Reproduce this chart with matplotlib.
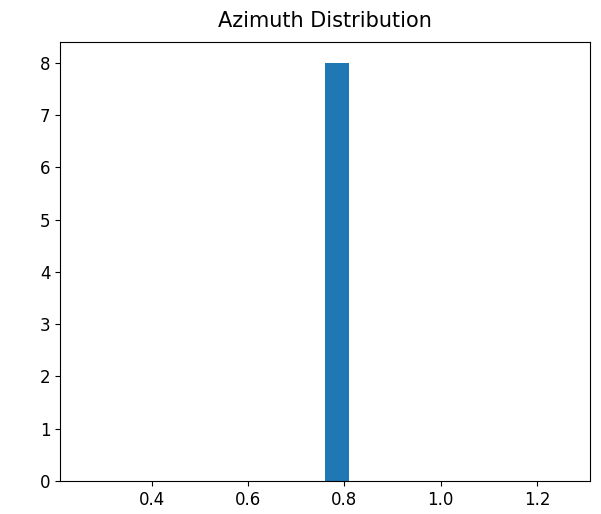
import numpy as np
import matplotlib
matplotlib.use("Agg")
import matplotlib.pyplot as plt

# Azimuth values (radians) for the eight samples
azimuths = [0.76, 0.76, 0.76, 0.76, 0.76, 0.76, 0.76, 0.76]

fig = plt.figure(figsize=(6.01, 5.14), dpi=100)
ax = fig.add_axes([60 / 601, 1 - 481 / 514, 530 / 601, 439 / 514])
ax.hist(azimuths, bins=20)
ax.set_title("Azimuth Distribution", fontsize=15, pad=11)
ax.tick_params(labelsize=12)
fig.savefig("out.png", dpi=100)
